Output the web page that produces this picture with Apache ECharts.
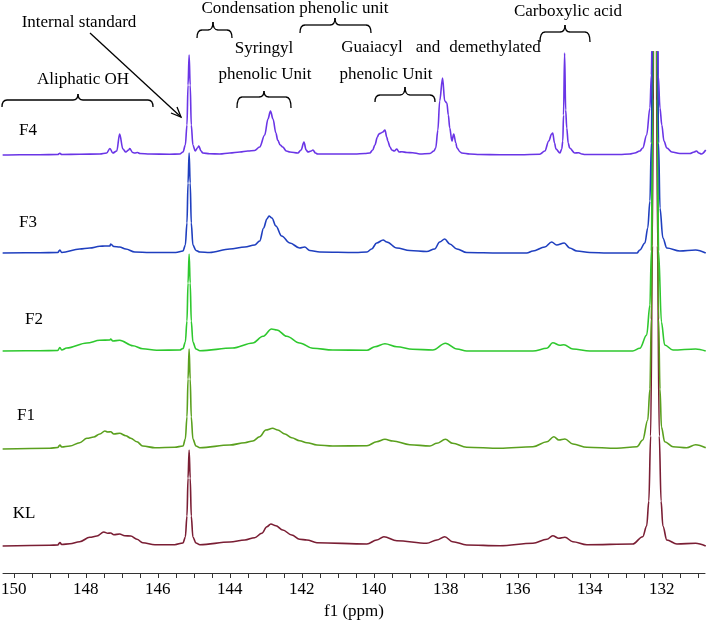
<!DOCTYPE html>
<html>
<head>
<meta charset="utf-8">
<script src="https://cdn.jsdelivr.net/npm/echarts@6/dist/echarts.min.js"></script>
<style>html,body{margin:0;padding:0;background:#fff}#c{width:708px;height:623px}</style>
</head>
<body>
<div id="c"></div>
<script>
// ppm tick labels
const tickLabels = [150,148,146,144,142,140,138,136,134,132];
const minorTicks = [150,149.5,149,148.5,148,147.5,147,146.5,146,145.5,145,144.5,144,143.5,143,142.5,142,141.5,141,140.5,140,139.5,139,138.5,138,137.5,137,136.5,136,135.5,135,134.5,134,133.5,133,132.5,132,131.5,131];
const traceNames = ['KL','F1','F2','F3','F4'];

// [ppm, intensity]
const specF4 = [[150.31,0],[149.83,0.3],[149.28,0.3],[148.78,0.5],[148.72,1.8],[148.67,0.5],[148.17,0.8],[147.61,1],[147.42,2],[147.33,6.5],[147.25,2],[147.14,4],[147.06,21],[146.97,6],[146.89,3],[146.81,5],[146.78,6.5],[146.7,2.5],[146.64,2],[146.56,2.5],[146.5,1.5],[146.22,1],[145.67,0.7],[145.39,1],
[145.30,3],[145.235,10],[145.19,30],[145.16,70],[145.13,100],[145.10,70],[145.07,30],[145.025,10],[144.96,4],[144.9,7],[144.86,9],[144.8,4],[144.75,2],[144.56,1.2],[144.28,1],[144.0,2],[143.72,3],[143.5,4],[143.31,4.5],[143.17,8],[143.03,20],[142.94,36],[142.87,44],[142.8,36],[142.72,22],[142.67,15],[142.6,10],[142.53,8],[142.43,4],[142.33,3],[142.11,2],[142.02,5],[141.94,13],[141.88,5],[141.83,3],[141.74,4],[141.69,5],[141.62,2],[141.56,1],[141.22,1],[140.94,1],[140.53,1],[140.25,1.5],[140.11,2],[140.03,5],[139.97,10],[139.9,18],[139.86,21],[139.8,22],[139.75,23],[139.69,25],[139.64,18],[139.61,14],[139.55,8],[139.5,5],[139.43,4],[139.36,6],[139.3,3],[139.22,3.3],[139.08,2.5],[138.92,2.3],[138.72,1],[138.44,1.5],[138.33,4],[138.28,7],[138.22,25],[138.17,54],[138.09,77],[138.03,54],[137.97,52],[137.93,40],[137.89,27],[137.83,14],[137.78,21],[137.72,12],[137.69,7],[137.6,3],[137.56,2],[137.33,1],[137.06,0.5],[136.5,0.2],[135.94,0.3],[135.39,0.8],[135.25,4],[135.14,14],[135.06,21],[135.03,22],[134.98,12],[134.94,6],[134.83,2],[134.78,6],[134.75,14],[134.73,40],[134.70,102],[134.67,45],[134.64,27],[134.6,12],[134.56,7],[134.42,2],[134.31,2.3],[134.22,1],[134.14,0.5],[133.72,0.5],[133.17,0.5],[132.89,1],[132.75,2],[132.61,4],[132.53,7],[132.42,20],[132.33,47],[132.29,80],[132.25,200],[132.19,700],[132.13,200],[132.1,80],[132.05,47],[132.0,30],[131.94,14],[131.86,7],[131.72,3],[131.5,1.5],[131.22,1.5],[131.1,3],[131.04,4],[130.97,2],[130.9,1],[130.78,5]];

const specF3 = [[150.31,0],[149.28,0.3],[148.78,0.5],[148.72,3],[148.67,0.5],[148.17,4],[147.89,5],[147.61,6.7],[147.47,7],[147.33,7],[147.31,9],[147.22,6.5],[147.06,6],[146.89,4],[146.64,1],[146.22,0.5],[145.5,0.5],
[145.30,2],[145.235,8],[145.19,30],[145.16,70],[145.13,100],[145.10,70],[145.07,30],[145.025,8],[144.94,2.5],[144.83,1],[144.56,0.5],[144.0,4],[143.58,6],[143.31,8],[143.17,12],[143.06,25],[142.97,34],[142.91,37],[142.83,35],[142.72,27],[142.56,17],[142.33,10],[142.06,5],[141.92,6],[141.78,2.5],[141.5,1],[140.5,0.5],[140.19,1],[140.06,4],[139.92,10],[139.74,13],[139.64,11],[139.36,5],[139.0,2.5],[138.53,1.5],[138.31,4],[138.17,11],[138.03,14],[137.89,9],[137.69,4],[137.42,0.5],[136.5,0],[135.75,0],[135.58,2],[135.25,6],[135.06,11],[134.92,8],[134.71,10],[134.56,5],[134.36,2],[134.0,0.5],[133.5,0],[132.69,0],[132.61,3],[132.47,10],[132.39,25],[132.33,52],[132.29,110],[132.25,300],[132.19,800],[132.13,300],[132.09,110],[132.05,45],[131.97,15],[131.86,5],[131.5,2],[131.06,3],[130.78,0]];

const specF2 = [[150.31,0],[149.28,0.3],[148.78,0.5],[148.72,3.5],[148.67,1],[148.53,3],[147.97,8],[147.61,10.7],[147.33,11],[147.31,12],[147.25,10],[147.06,10.7],[146.69,5.3],[146.42,2.3],[146.03,0.7],[145.39,1],
[145.30,2.5],[145.235,9],[145.19,30],[145.16,68],[145.13,97],[145.10,68],[145.07,30],[145.025,9],[144.94,2],[144.83,0.3],[143.92,3],[143.36,8],[143.08,14.7],[142.84,22],[142.69,21],[142.42,14.7],[142.06,8],[141.69,2.7],[141.14,1],[140.19,0.7],[139.97,4.3],[139.69,7.3],[139.36,4.3],[138.92,1.7],[138.36,1],[138.01,7.7],[137.69,2],[137.42,0],[135.58,0],[135.19,2.7],[135.03,8.3],[134.83,5.7],[134.72,6.3],[134.47,2],[134.0,0],[132.81,0],[132.61,2.7],[132.42,16],[132.33,46],[132.29,100],[132.25,300],[132.19,800],[132.13,300],[132.09,100],[132.01,29],[131.92,6],[131.69,1],[131.06,2],[130.78,0]];

const specF1 = [[150.31,0],[149.0,0.7],[148.78,1.5],[148.72,4],[148.67,2],[148.44,3],[148.17,6.3],[147.97,10.7],[147.78,12],[147.61,15],[147.47,18],[147.39,17],[147.31,17.3],[147.22,15],[147.06,15.7],[146.89,13.3],[146.75,10.7],[146.58,7.3],[146.42,3],[146.08,1.3],[145.53,1.7],
[145.30,3],[145.235,10],[145.19,32],[145.16,70],[145.13,100],[145.10,70],[145.07,32],[145.025,10],[144.94,3],[144.83,1.3],[144.0,4],[143.58,6.3],[143.36,8],[143.17,12.3],[143.0,19],[142.81,20.7],[142.67,19],[142.47,15],[142.28,11.3],[142.06,8.3],[141.86,6.3],[141.58,4],[141.14,3],[140.19,3.3],[139.92,7.3],[139.69,9.7],[139.47,8],[139.0,4.3],[138.44,3],[138.25,5.7],[138.01,9.7],[137.81,5.7],[137.42,1.7],[136.5,0.7],[135.58,2.3],[135.19,7.3],[135.0,12.3],[134.86,9],[134.69,10],[134.47,5],[134.08,1.7],[133.25,0.7],[132.69,2.3],[132.53,9],[132.39,29],[132.33,60],[132.29,130],[132.25,350],[132.19,900],[132.13,350],[132.09,130],[132.05,60],[132.01,22],[131.92,7.3],[131.69,2.3],[131.31,1.3],[131.06,4.3],[130.78,1.3]];

const specKL = [[150.31,0],[149.0,0.7],[148.78,1],[148.72,3.5],[148.67,1.5],[148.44,2.3],[148.17,4.3],[147.89,8.7],[147.69,10],[147.5,14],[147.39,12.7],[147.31,13],[147.22,11.3],[147.06,12],[146.92,10.3],[146.75,10],[146.58,6.7],[146.42,3.3],[146.08,1.3],[145.53,1.3],
[145.30,3],[145.235,9],[145.19,30],[145.16,68],[145.13,96],[145.10,68],[145.07,30],[145.025,9],[144.94,3],[144.83,1.3],[144.0,4],[143.58,6],[143.31,8.3],[143.11,12.7],[142.97,19.3],[142.86,22],[142.72,20.3],[142.53,16],[142.28,11],[142.06,6.7],[141.86,6],[141.58,3.3],[140.19,2],[139.92,6],[139.72,9.3],[139.36,5.3],[138.53,2.7],[138.25,6],[138.03,9.3],[137.81,4.3],[137.42,1],[136.5,0.3],[135.58,2.7],[135.19,6.7],[135.03,10.3],[134.86,7.7],[134.69,8.7],[134.47,4.3],[134.08,1.3],[132.81,2],[132.53,9.3],[132.42,20],[132.36,45],[132.31,110],[132.26,300],[132.19,900],[132.12,300],[132.07,110],[132.02,45],[131.97,20],[131.86,6],[131.58,2],[131.06,2.7],[130.78,0]];

const spectra = [specKL, specF1, specF2, specF3, specF4];
</script>
<script>
const offsets = [27, 124, 222, 320, 418];
const colors = ['#7a1e34', '#5aa01e', '#2ec82e', '#1f3fbf', '#6a35e6'];
const FONT = '17px "Liberation Serif", "Times New Roman", serif';

const chart = echarts.init(document.getElementById('c'), null, {renderer: 'canvas'});

const series = spectra.map((s, i) => ({
  name: traceNames[i],
  type: 'line',
  showSymbol: false,
  symbol: 'none',
  clip: true,
  smooth: 0.35,
  smoothMonotone: 'x',
  lineStyle: {color: colors[i], width: 1.6},
  data: s.map(p => [p[0], p[1] + offsets[i]]),
  z: 2 + i
}));

function brace(x1, x2, xm, yc, ym, ye) {
  const r = 5;
  const st = {stroke: '#000', lineWidth: 1.3, fill: null};
  return {
    type: 'group',
    children: [
      {type: 'bezierCurve', shape: {x1: x1, y1: ye, cpx1: x1, cpy1: ym, x2: x1 + r, y2: ym}, style: st},
      {type: 'line', shape: {x1: x1 + r, y1: ym, x2: xm - r, y2: ym}, style: st},
      {type: 'bezierCurve', shape: {x1: xm - r, y1: ym, cpx1: xm, cpy1: ym, x2: xm, y2: yc}, style: st},
      {type: 'bezierCurve', shape: {x1: xm, y1: yc, cpx1: xm, cpy1: ym, x2: xm + r, y2: ym}, style: st},
      {type: 'line', shape: {x1: xm + r, y1: ym, x2: x2 - r, y2: ym}, style: st},
      {type: 'bezierCurve', shape: {x1: x2 - r, y1: ym, cpx1: x2, cpy1: ym, x2: x2, y2: ye}, style: st}
    ]
  };
}
function txt(t, x, y) {
  return {type: 'text', style: {text: t, x: x, y: y, font: FONT, fill: '#000', textAlign: 'center', textVerticalAlign: 'middle'}, z: 10};
}

const graphics = [
  txt('Internal standard', 79, 23),
  txt('Aliphatic OH', 83, 80),
  txt('Condensation phenolic unit', 295, 9),
  txt('Syringyl', 264, 49),
  txt('phenolic Unit', 265, 75),
  txt('Guaiacyl', 372, 48),
  txt('and', 428, 48),
  txt('demethylated', 495, 48),
  txt('phenolic Unit', 386, 75),
  txt('Carboxylic acid', 568, 12),
  txt('F4', 28, 131),
  txt('F3', 28, 223),
  txt('F2', 34, 320),
  txt('F1', 26, 416),
  txt('KL', 24, 514),
  brace(2, 153, 78, 94, 100, 107),
  brace(197, 232, 213, 22, 30, 38),
  brace(300, 371, 335, 18, 25, 33),
  brace(237, 291, 264, 91, 97, 108),
  brace(375, 435, 405, 87, 95, 102),
  brace(540, 590, 565, 25, 32, 42),
  {type: 'line', shape: {x1: 90, y1: 33, x2: 181, y2: 117}, style: {stroke: '#000', lineWidth: 1.3}},
  {type: 'polyline', shape: {points: [[171, 113], [181, 117], [177, 107]]}, style: {stroke: '#000', lineWidth: 1.3, fill: null}}
];

chart.setOption({
  animation: false,
  backgroundColor: '#fff',
  grid: {left: 3, right: 3, top: 52, bottom: 50, containLabel: false, outerBoundsMode: 'none'},
  xAxis: {
    type: 'value',
    inverse: true,
    min: 130.8,
    max: 150.3,
    name: 'f1 (ppm)',
    nameLocation: 'middle',
    nameGap: 24,
    nameTextStyle: {fontFamily: '"Liberation Serif", serif', fontSize: 17, color: '#000'},
    axisLine: {show: true, onZero: false, lineStyle: {color: '#333', width: 1}},
    axisTick: {show: true, length: 5, lineStyle: {color: '#333'}, customValues: minorTicks},
    axisLabel: {show: true, margin: 8, fontFamily: '"Liberation Serif", serif', fontSize: 17, color: '#000', customValues: tickLabels, formatter: v => String(Math.round(v))},
    splitLine: {show: false}
  },
  yAxis: {type: 'value', min: 0, max: 521, show: false, splitLine: {show: false}},
  series: series,
  graphic: graphics
});
</script>
</body>
</html>
